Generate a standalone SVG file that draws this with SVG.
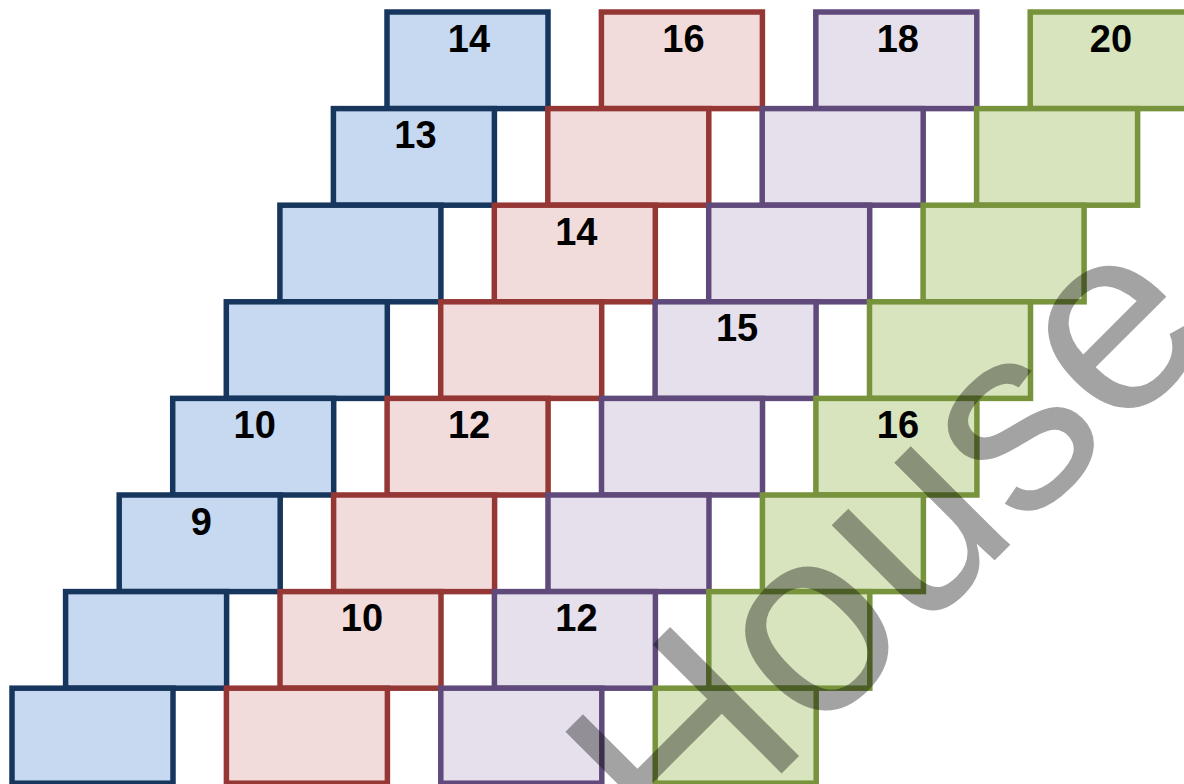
<svg xmlns="http://www.w3.org/2000/svg" width="1184" height="784" viewBox="0 0 1184 784">
<style>
rect{stroke-width:5.5}
.b{fill:#c6d9f0;stroke:#17365d}
.r{fill:#f2dcdb;stroke:#953735}
.p{fill:#e5e0ec;stroke:#604a7b}
.g{fill:#d7e4bd;stroke:#77933c}
.n{font-family:"Liberation Sans",Arial,sans-serif;font-weight:bold;font-size:38px;fill:#000;text-anchor:middle}
.wm{font-family:"Liberation Sans",Arial,sans-serif;font-size:265px;fill:#000;fill-opacity:0.36}
</style>
<rect width="1184" height="784" fill="#fff"/>
<g id="blue">
<g id="b0"><rect class="b" x="387" y="12" width="161" height="96.6"/><text class="n" x="469" y="51.5">14</text></g>
<g id="b1"><rect class="b" x="333.4" y="108.6" width="161" height="96.6"/><text class="n" x="415.4" y="148.1">13</text></g>
<g id="b2"><rect class="b" x="279.9" y="205.2" width="161" height="96.6"/></g>
<g id="b3"><rect class="b" x="226.3" y="301.8" width="161" height="96.6"/></g>
<g id="b4"><rect class="b" x="172.7" y="398.4" width="161" height="96.6"/><text class="n" x="254.7" y="437.9">10</text></g>
<g id="b5"><rect class="b" x="119.2" y="495" width="161" height="96.6"/><text class="n" x="201.2" y="534.5">9</text></g>
<g id="b6"><rect class="b" x="65.6" y="591.6" width="161" height="96.6"/></g>
<g id="b7"><rect class="b" x="12" y="688.2" width="161" height="95"/></g>
</g>
<g id="red">
<g id="r0"><rect class="r" x="601.4" y="12" width="161" height="96.6"/><text class="n" x="683.4" y="51.5">16</text></g>
<g id="r1"><rect class="r" x="547.8" y="108.6" width="161" height="96.6"/></g>
<g id="r2"><rect class="r" x="494.3" y="205.2" width="161" height="96.6"/><text class="n" x="576.3" y="244.7">14</text></g>
<g id="r3"><rect class="r" x="440.7" y="301.8" width="161" height="96.6"/></g>
<g id="r4"><rect class="r" x="387.1" y="398.4" width="161" height="96.6"/><text class="n" x="469.1" y="437.9">12</text></g>
<g id="r5"><rect class="r" x="333.6" y="495" width="161" height="96.6"/></g>
<g id="r6"><rect class="r" x="280" y="591.6" width="161" height="96.6"/><text class="n" x="362" y="631.1">10</text></g>
<g id="r7"><rect class="r" x="226.4" y="688.2" width="161" height="95"/></g>
</g>
<g id="purple">
<g id="p0"><rect class="p" x="815.8" y="12" width="161" height="96.6"/><text class="n" x="897.8" y="51.5">18</text></g>
<g id="p1"><rect class="p" x="762.2" y="108.6" width="161" height="96.6"/></g>
<g id="p2"><rect class="p" x="708.7" y="205.2" width="161" height="96.6"/></g>
<g id="p3"><rect class="p" x="655.1" y="301.8" width="161" height="96.6"/><text class="n" x="737.1" y="341.3">15</text></g>
<g id="p4"><rect class="p" x="601.5" y="398.4" width="161" height="96.6"/></g>
<g id="p5"><rect class="p" x="548" y="495" width="161" height="96.6"/></g>
<g id="p6"><rect class="p" x="494.4" y="591.6" width="161" height="96.6"/><text class="n" x="576.4" y="631.1">12</text></g>
<g id="p7"><rect class="p" x="440.8" y="688.2" width="161" height="95"/></g>
</g>
<g id="green">
<g id="g0"><rect class="g" x="1030.2" y="12" width="161" height="96.6"/><text class="n" x="1111" y="51.5">20</text></g>
<g id="g1"><rect class="g" x="976.6" y="108.6" width="161" height="96.6"/></g>
<g id="g2"><rect class="g" x="923.1" y="205.2" width="161" height="96.6"/></g>
<g id="g3"><rect class="g" x="869.5" y="301.8" width="161" height="96.6"/></g>
<g id="g4"><rect class="g" x="815.9" y="398.4" width="161" height="96.6"/><text class="n" x="897.9" y="437.9">16</text></g>
<g id="g5"><rect class="g" x="762.4" y="495" width="161" height="96.6"/></g>
<g id="g6"><rect class="g" x="708.8" y="591.6" width="161" height="96.6"/></g>
<g id="g7"><rect class="g" x="655.2" y="688.2" width="161" height="95"/></g>
</g>
<g id="connectors"/>
<text class="wm" transform="translate(679,876) rotate(-45)">House</text>
</svg>
